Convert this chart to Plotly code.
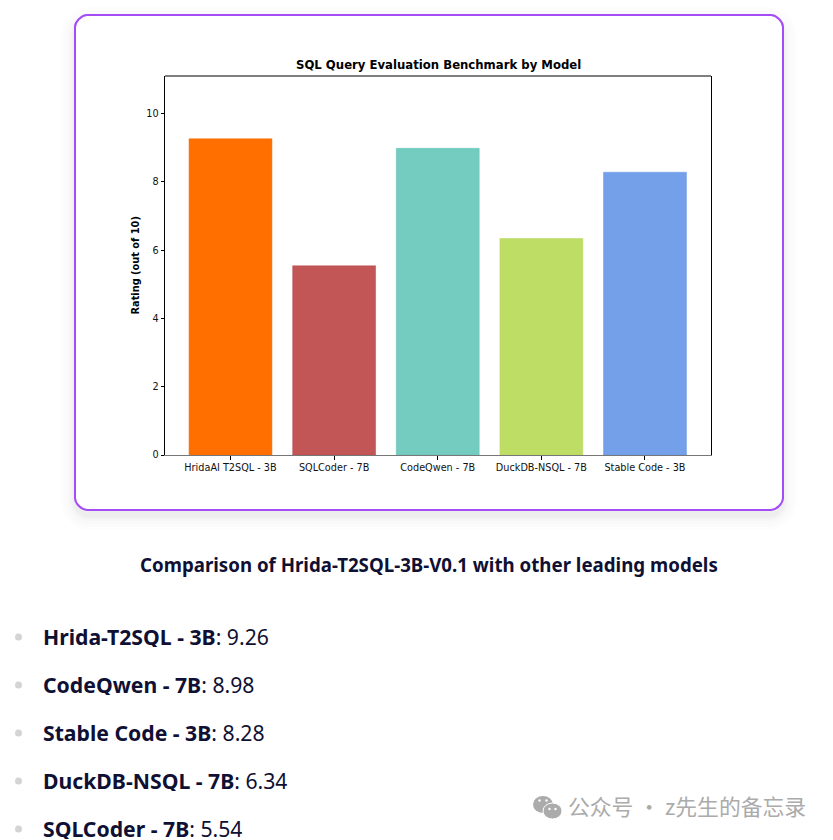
import plotly.graph_objects as go

W, H = 833, 840
L, R, T, B = 165, 711, 76, 455

models = ["HridaAI T2SQL - 3B", "SQLCoder - 7B", "CodeQwen - 7B", "DuckDB-NSQL - 7B", "Stable Code - 3B"]
ratings = [9.26, 5.54, 8.98, 6.34, 8.28]
bar_fill = ["#FF6F00", "#C25555", "#74CBC0", "#BEDD65", "#74A0EA"]
bar_edge = ["#F56A00", "#B84A4A", "#5FBFB3", "#B4D65A", "#6595E5"]
y_ticks = [0, 2, 4, 6, 8, 10]

list_names = ["Hrida-T2SQL - 3B", "CodeQwen - 7B", "Stable Code - 3B", "DuckDB-NSQL - 7B", "SQLCoder - 7B"]
list_scores = ["9.26", "8.98", "8.28", "6.34", "5.54"]
list_y = [636, 684, 732, 780, 828]

chart_title = "SQL Query Evaluation Benchmark by Model"
y_title = "Rating (out of 10)"
caption = "Comparison of Hrida-T2SQL-3B-V0.1 with other leading models"
watermark = "公众号 · z先生的备忘录"


def px(x):
    return (x - L) / (R - L)


def py(y):
    return (B - y) / (B - T)


def rrect(x0, y0, x1, y1, r):
    c = 0.45 * r
    pts = [
        ("M", x0 + r, y0), ("L", x1 - r, y0),
        ("C", x1 - r + c, y0, x1, y0 + r - c, x1, y0 + r),
        ("L", x1, y1 - r),
        ("C", x1, y1 - r + c, x1 - r + c, y1, x1 - r, y1),
        ("L", x0 + r, y1),
        ("C", x0 + r - c, y1, x0, y1 - r + c, x0, y1 - r),
        ("L", x0, y0 + r),
        ("C", x0, y0 + r - c, x0 + r - c, y0, x0 + r, y0),
    ]
    out = []
    for p in pts:
        coords = p[1:]
        s = []
        for i in range(0, len(coords), 2):
            s.append(f"{px(coords[i]):.5f},{py(coords[i + 1]):.5f}")
        out.append(p[0] + " ".join(s))
    return " ".join(out) + " Z"


def circle(cx, cy, rx, ry, color, line=None):
    return dict(type="circle", xref="paper", yref="paper", layer="above",
                x0=px(cx - rx), x1=px(cx + rx), y0=py(cy + ry), y1=py(cy - ry),
                fillcolor=color, line=dict(width=1 if line else 0, color=line or color))


shapes = []
# card shadow
for grow, op in [(14, 0.006), (11, 0.007), (8, 0.009), (5, 0.012), (3, 0.014), (1, 0.016)]:
    shapes.append(dict(type="path", xref="paper", yref="paper", layer="below",
                       path=rrect(75 - grow, 15 - grow + 6, 783 + grow, 510 + grow + 6, 12 + grow),
                       fillcolor="#000000", opacity=op, line=dict(width=0)))
# card
shapes.append(dict(type="path", xref="paper", yref="paper", layer="below",
                   path=rrect(75, 15, 783, 510, 12), fillcolor="#FFFFFF",
                   line=dict(color="#A44CF6", width=2)))
# list bullets
for y in list_y:
    shapes.append(circle(18.5, y + 1, 3.5, 3.5, "#D2D4D6"))
# watermark icon
shapes.append(circle(543, 804.5, 10, 8.5, "#ABABAB"))
shapes.append(circle(552.5, 811, 9.5, 8, "#ABABAB", "#FFFFFF"))
for cx, cy, col in [(539.5, 800.5, "#FFFFFF"), (546.5, 800.5, "#FFFFFF"),
                    (549.5, 809, "#FFFFFF"), (555.5, 809, "#FFFFFF")]:
    shapes.append(circle(cx, cy, 1.2, 1.2, col))
# top spine (the baseline is lighter in the reference)
shapes.append(dict(type="line", xref="paper", yref="paper", layer="above",
                   x0=0, x1=1, y0=1, y1=1, line=dict(color="#000000", width=1)))

annotations = [
    dict(text=f"<b>{chart_title}</b>", x=px(438), y=py(65), xref="paper", yref="paper",
         showarrow=False, xanchor="center", yanchor="middle",
         font=dict(family="DejaVu Sans", size=11.7, color="#000000")),
    dict(text=f"<b>{y_title}</b>", x=px(135), y=py(265.5), xref="paper", yref="paper",
         showarrow=False, xanchor="center", yanchor="middle", textangle=-90,
         font=dict(family="DejaVu Sans", size=9.8, color="#000000")),
    dict(text=f"<b>{caption}</b>", x=px(429), y=py(564), xref="paper", yref="paper",
         showarrow=False, xanchor="center", yanchor="middle",
         font=dict(family="Noto Sans", size=18.7, color="#0F1033")),
    dict(text=watermark, x=px(566), y=py(806), xref="paper", yref="paper",
         showarrow=False, xanchor="left", yanchor="middle",
         font=dict(family="Noto Sans CJK SC", size=21.8, color="#ABABAB")),
]
for name, score, y in zip(list_names, list_scores, list_y):
    annotations.append(dict(
        text=f"<b>{name}</b>: {score}", x=px(41), y=py(y), xref="paper", yref="paper",
        showarrow=False, xanchor="left", yanchor="middle", height=22,
        font=dict(family="Noto Sans", size=21.2, color="#0F1033")))

fig = go.Figure(go.Bar(
    x=models, y=ratings, width=0.8,
    marker=dict(color=bar_fill, line=dict(color=bar_edge, width=0.5)),
    hoverinfo="skip",
))
fig.update_layout(
    width=W, height=H, autosize=False,
    margin=dict(l=L, r=W - R, t=T, b=H - B),
    paper_bgcolor="#FFFFFF", plot_bgcolor="rgba(0,0,0,0)",
    showlegend=False, shapes=shapes, annotations=annotations,
    font=dict(family="DejaVu Sans", size=10, color="#111111"),
)
fig.update_xaxes(range=[-0.632, 4.637], showgrid=False, zeroline=False, showline=True,
                 mirror=False, linecolor="#777777", linewidth=1, ticks="outside",
                 ticklen=3.5, tickcolor="#000000", tickwidth=1,
                 tickfont=dict(family="DejaVu Sans", size=9.7, color="#111111"), tickangle=0)
fig.update_yaxes(range=[0, 11.098], tickvals=y_ticks, showgrid=False, zeroline=False, showline=True,
                 mirror=True, linecolor="#000000", linewidth=1, ticks="outside",
                 ticklen=3.5, tickcolor="#000000", tickwidth=1,
                 tickfont=dict(family="DejaVu Sans", size=9.7, color="#111111"))

fig.write_html("out.html", config={"displayModeBar": False},
               post_script="document.body.style.margin='0';document.body.style.overflow='hidden';")
